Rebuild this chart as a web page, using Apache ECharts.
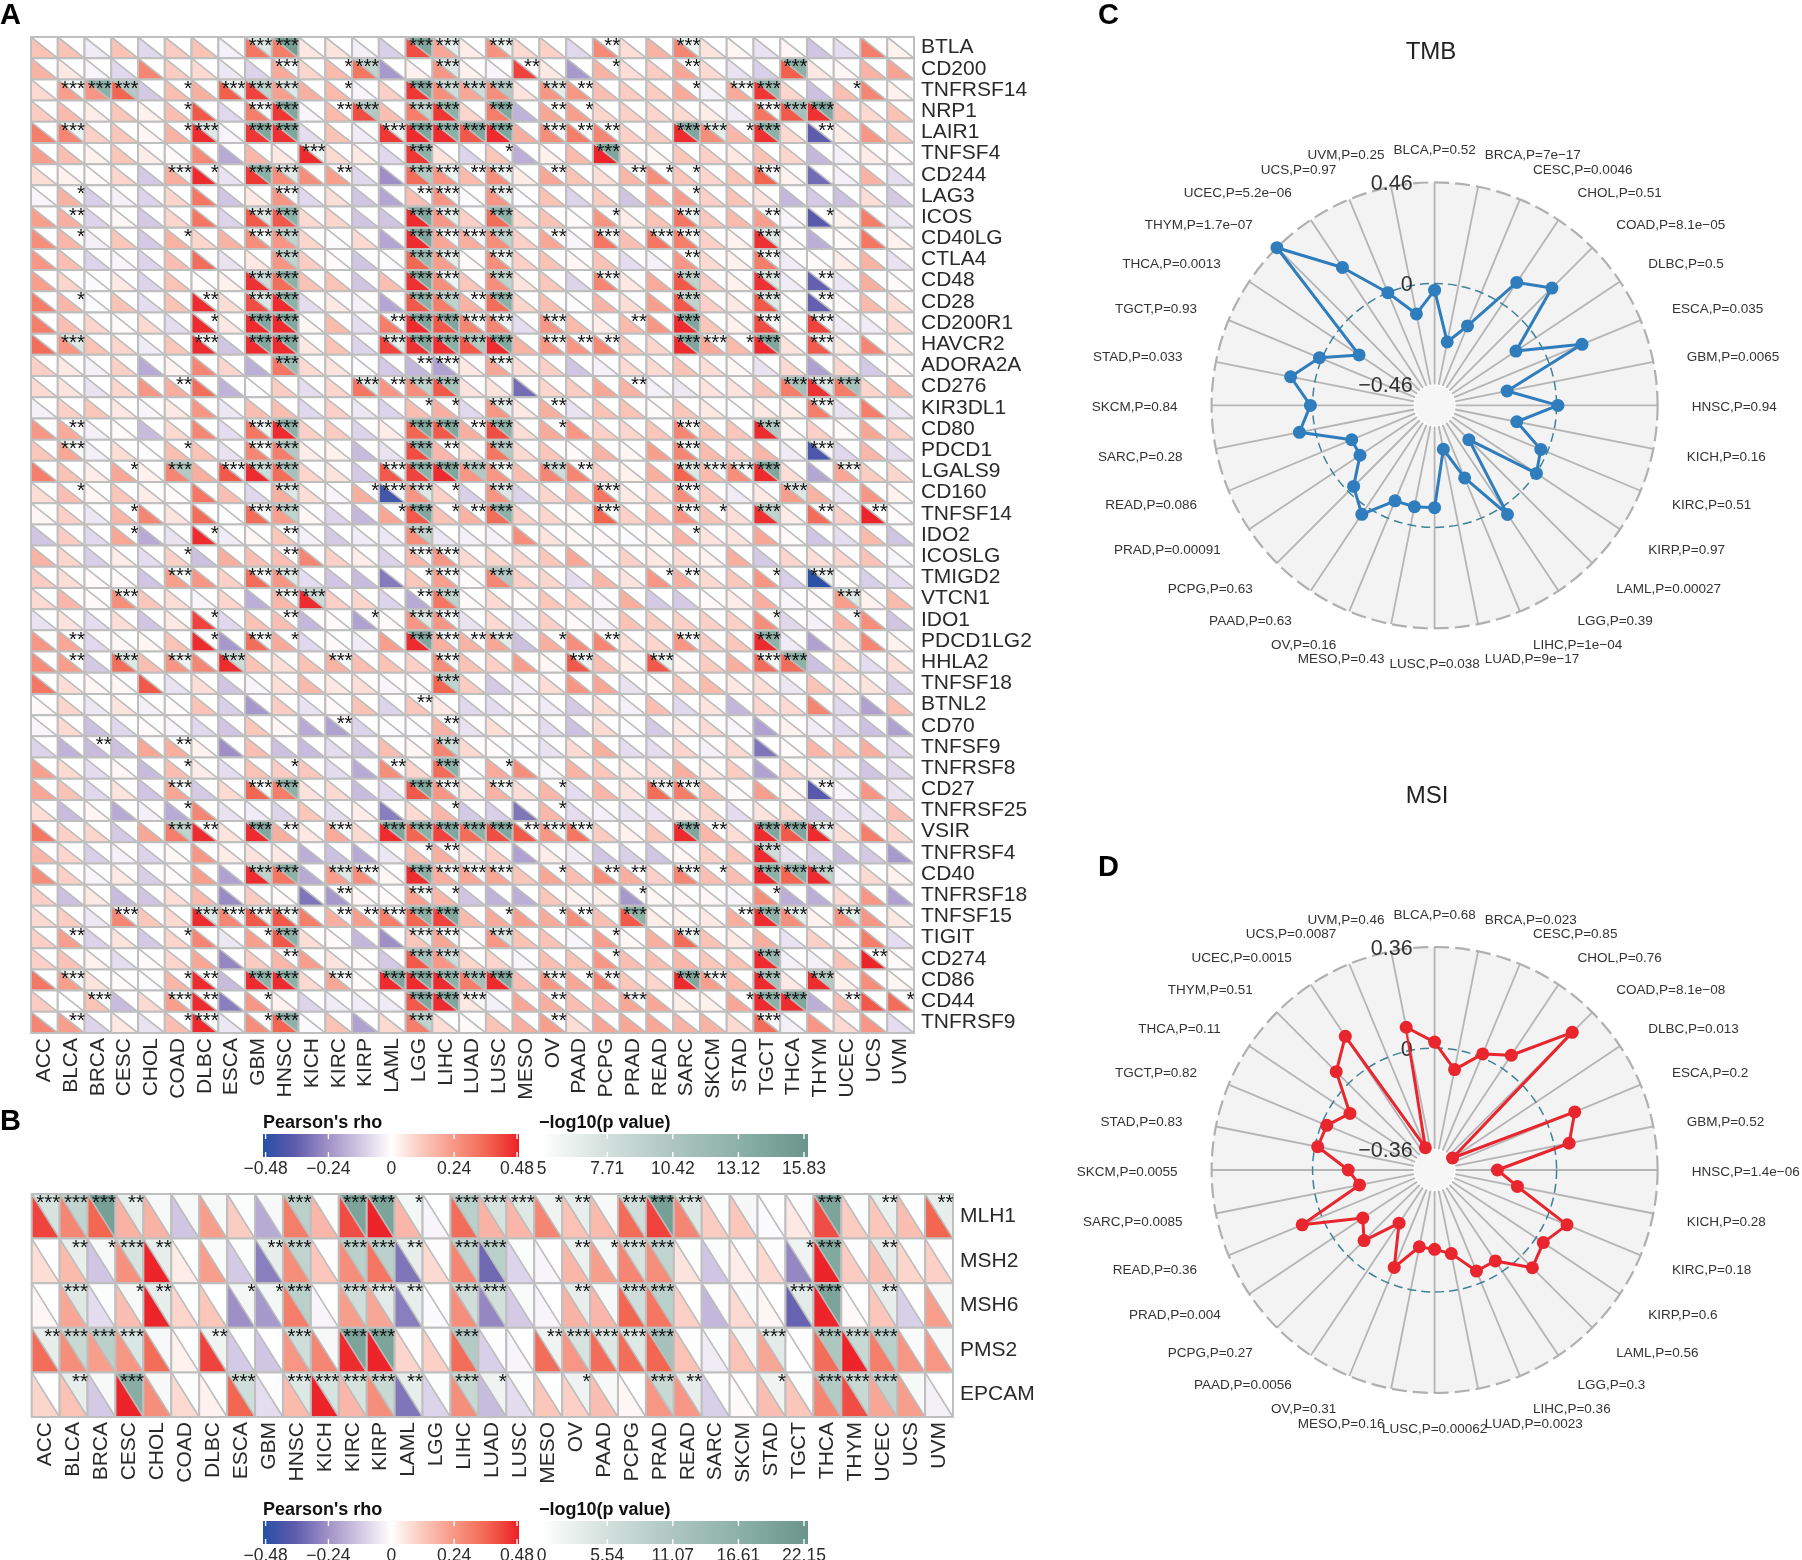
<!DOCTYPE html>
<html>
<head>
<meta charset="utf-8">
<script src="https://cdn.jsdelivr.net/npm/echarts@6/dist/echarts.min.js"></script>
<style>html,body{margin:0;background:#fff}#main{width:1802px;height:1560px}</style>
</head>
<body>
<div id="main"></div>
<script>
var FONT = '"Liberation Sans"';
var cancersA = ['ACC','BLCA','BRCA','CESC','CHOL','COAD','DLBC','ESCA','GBM','HNSC','KICH','KIRC','KIRP','LAML','LGG','LIHC','LUAD','LUSC','MESO','OV','PAAD','PCPG','PRAD','READ','SARC','SKCM','STAD','TGCT','THCA','THYM','UCEC','UCS','UVM'];
var genesA = ['BTLA','CD200','TNFRSF14','NRP1','LAIR1','TNFSF4','CD244','LAG3','ICOS','CD40LG','CTLA4','CD48','CD28','CD200R1','HAVCR2','ADORA2A','CD276','KIR3DL1','CD80','PDCD1','LGALS9','CD160','TNFSF14','IDO2','ICOSLG','TMIGD2','VTCN1','IDO1','PDCD1LG2','HHLA2','TNFSF18','BTNL2','CD70','TNFSF9','TNFRSF8','CD27','TNFRSF25','VSIR','TNFRSF4','CD40','TNFRSF18','TNFSF15','TIGIT','CD274','CD86','CD44','TNFRSF9'];
var genesB = ['MLH1','MSH2','MSH6','PMS2','EPCAM'];

// rho x 100, one row per gene, one value per cancer
var rhoA = [
[13,13,-4,13,-8,11,13,-3,32,30,5,6,-3,-10,40,20,4,25,8,10,-8,27,7,17,28,6,2,-6,2,-12,-7,30,3],
[17,5,-2,-8,28,11,8,-5,-9,19,9,15,32,-22,3,24,3,-2,42,5,-22,17,7,11,20,8,-6,-10,37,5,2,17,21],
[8,22,24,36,-11,14,18,37,42,22,18,15,-2,10,44,26,20,26,6,24,24,14,11,11,19,-3,19,44,9,-13,14,28,3],
[11,15,4,12,3,14,38,-8,30,44,-2,15,40,14,30,44,9,30,-16,20,22,9,10,9,8,4,-4,32,38,45,13,8,13],
[30,28,10,12,2,17,46,-2,44,45,-7,13,-4,44,46,46,38,46,18,26,30,28,10,11,46,26,16,45,8,-36,4,24,12],
[22,14,3,12,4,1,27,-18,16,5,46,8,5,-8,44,6,-9,12,-17,3,15,47,8,2,12,10,5,13,9,-15,-3,4,1],
[7,3,1,9,-11,18,46,-6,44,26,26,22,-8,-24,34,24,15,26,4,20,13,7,16,26,12,9,13,36,3,-32,-3,17,-7],
[-2,17,-10,-3,-9,9,32,-12,5,24,-8,7,-12,-19,14,24,-1,24,-1,13,-9,11,-12,20,22,10,13,6,-15,-11,-13,7,-11],
[22,18,-9,2,-11,9,32,-9,38,38,8,9,-12,-12,46,24,10,34,8,13,1,24,4,13,32,12,15,22,-2,-37,3,30,-5],
[26,16,-3,12,-11,17,9,17,26,24,9,-1,8,-19,46,20,18,26,10,20,-2,32,14,32,30,10,3,45,1,-17,1,32,3],
[24,14,-9,-2,-9,14,34,-6,5,24,11,1,-12,-1,35,22,1,26,10,13,2,13,-7,-3,24,8,3,30,-4,1,4,17,-6],
[22,9,-1,5,-9,13,1,3,45,34,13,13,-12,14,45,26,12,26,6,12,-9,28,5,19,38,11,3,45,-4,-35,-5,18,1],
[30,16,-1,13,-7,13,46,7,40,46,-7,5,-3,-19,38,30,17,34,9,14,-1,17,7,22,38,10,5,38,1,-35,1,15,7],
[30,14,9,1,8,-7,46,5,46,46,2,15,-7,30,46,38,28,28,-7,24,15,4,15,24,46,12,3,40,2,42,-4,-4,8],
[34,24,13,9,-4,12,46,-12,46,46,5,13,-9,42,45,45,38,46,17,24,24,27,12,9,46,19,15,46,6,38,5,28,5],
[10,5,-3,10,-18,3,28,9,-17,32,8,6,-1,-11,-15,-20,5,20,7,10,-12,-3,8,8,13,7,2,-6,8,-20,9,-11,2],
[8,6,-6,9,24,18,34,-16,-1,11,-7,9,32,24,26,38,6,6,-32,9,11,20,17,-3,-5,6,6,13,30,45,30,9,15],
[-3,10,12,5,-2,5,24,-5,14,14,-8,10,-5,-9,14,18,-8,24,5,18,-6,13,13,1,12,5,-1,5,4,30,-6,30,-5],
[24,19,-3,1,-14,8,28,-7,32,46,10,11,-9,4,36,38,18,40,7,19,24,10,9,12,28,13,12,46,2,10,1,20,10],
[12,20,-3,7,-1,14,13,-6,28,30,4,3,-14,-6,40,16,7,32,8,12,1,17,2,22,28,15,10,16,-4,-40,-8,16,-7],
[30,13,4,20,3,28,18,38,46,34,9,6,-11,38,42,46,24,24,14,28,28,10,3,18,36,15,26,46,7,-19,20,11,9],
[7,14,2,12,4,1,32,14,-8,18,7,-2,18,-42,24,10,-10,24,-9,9,14,32,5,9,26,11,-4,5,22,17,-5,24,3],
[2,10,-5,16,28,6,34,-1,34,22,2,-9,-15,20,38,13,17,34,10,9,2,36,10,14,24,13,7,45,4,34,10,47,1],
[-12,11,-8,20,-18,-6,46,-4,2,12,-3,-11,-4,-5,26,-5,-3,-3,26,6,2,2,-1,3,17,6,6,20,1,-12,-7,15,-12],
[17,9,-10,4,-7,10,-13,18,14,14,28,10,4,-9,16,24,8,9,8,12,20,-1,10,5,8,3,18,-11,9,7,9,13,-2],
[11,7,1,1,-12,22,24,10,34,24,-7,-12,-14,-29,12,22,1,28,10,9,-7,16,6,24,18,8,12,24,-10,-47,1,-10,-7],
[8,16,1,26,12,7,-2,9,-17,16,46,10,9,-9,-18,32,1,8,1,12,10,-2,18,-11,-11,1,4,18,-2,1,22,3,15],
[-6,6,-7,7,-12,5,42,-8,13,14,-15,1,-20,1,24,24,-6,8,-6,10,1,-3,13,11,10,10,10,26,-8,-3,16,26,-12],
[24,20,-8,2,2,13,46,-22,34,19,-8,1,-4,22,46,18,17,20,-13,18,26,28,7,9,24,11,12,46,-4,-20,5,28,3],
[26,22,-11,34,14,24,28,46,13,7,13,17,14,13,10,26,13,10,22,2,38,14,4,38,3,11,18,34,34,-13,9,-7,7],
[32,7,2,2,38,-6,7,-12,-2,7,15,5,7,-2,1,36,11,-11,-4,7,24,20,-6,1,12,15,5,7,-5,13,6,6,-10],
[1,9,-5,6,-3,1,13,-10,-22,11,-6,1,13,-9,12,5,-8,-7,2,-4,-11,8,-3,14,-8,6,-15,9,8,28,-8,-20,14],
[-2,8,-13,-8,1,-2,-8,-12,12,2,-18,-20,-9,-1,-1,17,-6,7,1,-7,-13,8,-1,-11,5,8,-2,-20,3,-4,-8,-13,-20],
[-9,-16,-14,-13,20,18,3,-24,14,-13,-14,-7,-12,14,2,28,8,1,-1,-6,8,18,-7,-7,9,-3,8,-30,1,16,13,18,-8],
[22,8,-7,2,-14,14,4,-7,13,11,12,-7,-18,26,9,34,-1,19,26,-2,17,12,5,8,18,5,11,-20,9,5,-5,-12,-8],
[20,13,-8,6,-12,20,-11,8,36,30,6,8,-14,-8,38,24,6,17,7,16,-7,16,6,34,30,14,1,22,3,-38,-2,24,-6],
[7,-14,2,-18,-3,-18,28,-6,-4,-9,12,-7,4,-28,8,16,-11,-10,-30,16,-7,-3,-6,-6,4,9,-7,6,8,-11,-6,-6,14],
[32,10,9,-11,20,30,46,6,46,18,5,19,8,46,36,42,34,40,38,24,32,11,3,12,46,16,7,46,38,46,7,30,9],
[16,9,-10,-3,-9,2,24,4,6,5,-17,-13,-18,-5,14,18,6,10,-20,4,-4,-12,-10,-12,2,10,12,46,-6,-10,-14,-11,-22],
[26,10,-2,5,-10,1,22,-20,46,32,-18,22,26,2,46,18,20,20,12,20,14,26,18,10,28,14,14,46,36,46,-2,8,3],
[10,-13,5,-14,-12,7,15,-25,11,1,-30,-22,2,1,22,16,-12,-16,-17,12,3,4,-22,2,2,2,-2,26,-17,-17,8,24,-20],
[8,11,-5,28,12,8,46,28,38,38,30,18,22,30,36,42,15,19,22,19,26,14,38,4,3,5,18,46,26,3,24,24,5],
[10,22,-9,6,-11,9,28,-5,22,38,7,1,-15,-24,12,20,1,24,13,13,-2,22,2,18,34,13,5,18,-6,10,2,30,-7],
[10,13,3,-7,1,9,20,-26,11,16,22,6,1,-11,38,24,9,9,-2,14,13,24,14,14,16,12,13,46,-3,-3,13,47,1],
[32,22,6,1,-1,16,46,-14,46,46,8,20,1,46,46,46,30,46,14,24,20,28,12,9,46,22,15,46,5,46,3,26,2],
[11,0,13,-14,8,22,46,-28,24,3,-9,-4,-4,-4,38,46,5,-3,20,18,14,16,20,20,4,3,20,46,46,-17,14,38,34],
[28,22,-9,5,-6,14,46,-5,26,36,-1,13,-20,8,30,7,1,13,18,22,7,20,20,20,17,17,8,34,-3,24,8,24,-7]
];
// significant cells per gene, as triples: cancer index, star count, -log10(p)
var sigA = [
[8,3,7,9,3,15,14,3,14,15,3,6.5,17,3,6,21,2,4,24,3,6],
[9,3,5.5,11,1,3,12,3,9,15,3,7,18,2,3,21,1,3,24,2,4,28,3,13],
[1,3,5.5,2,3,13,3,3,10,5,1,3,7,3,6,8,3,9,9,3,7,11,1,3,14,3,14,15,3,8,16,3,8,17,3,10,19,3,6.5,20,2,4,24,1,3,26,3,5.5,27,3,12,30,1,3],
[5,1,3,8,3,5.5,9,3,14,11,2,4,12,3,10,14,3,9,15,3,13,17,3,14,19,2,4,20,1,3,27,3,5.5,28,3,11,29,3,14],
[1,3,6,5,1,3,6,3,7,8,3,14,9,3,14,13,3,6,14,3,14,15,3,13,16,3,14,17,3,14,19,3,5.5,20,2,4,21,2,4,24,3,14,25,3,6.5,26,1,3,27,3,13,29,2,4],
[10,3,6,14,3,13,17,1,3,21,3,14],
[5,3,5.5,6,1,3,8,3,13,9,3,7,11,2,4,14,3,10,15,3,6,16,2,4,17,3,6,19,2,4,22,2,4,23,1,3,24,1,3,27,3,5.5],
[1,1,3,9,3,5.5,14,2,4,15,3,5.5,17,3,6,24,1,3],
[1,2,4,8,3,7,9,3,13,14,3,14,15,3,6.5,17,3,13,21,1,3,24,3,6,27,2,4,29,1,3],
[1,1,3,5,1,3,8,3,5.5,9,3,9,14,3,14,15,3,5.5,16,3,5.5,17,3,9,19,2,4,21,3,5.5,23,3,5.5,24,3,5.5,27,3,7],
[9,3,9,14,3,12,15,3,6.5,17,3,6,24,2,4,27,3,5.5],
[8,3,8,9,3,13,14,3,14,15,3,6,17,3,9,21,3,5.5,24,3,9,27,3,7,29,2,4],
[1,1,3,6,2,4,8,3,7,9,3,13,14,3,13,15,3,9,16,2,4,17,3,13,24,3,9,27,3,7,29,2,4],
[6,1,3,8,3,14,9,3,14,13,2,4,14,3,14,15,3,14,16,3,5.5,17,3,6,19,3,5.5,22,2,4,24,3,14,27,3,5.5,29,3,5.5],
[1,3,7,6,3,5.5,8,3,14,9,3,14,13,3,6.5,14,3,14,15,3,13,16,3,10,17,3,14,19,3,5.5,20,2,4,21,2,4,24,3,14,25,3,5.5,26,1,3,27,3,14,29,3,5.5],
[9,3,12,14,2,4,15,3,5.5,17,3,5.5],
[5,2,4,12,3,6.5,13,2,4,14,3,9,15,3,11,22,2,4,28,3,11,29,3,7,30,3,11],
[14,1,3,15,1,3,17,3,6.5,19,2,4,29,3,5.5],
[1,2,4,8,3,6,9,3,13,14,3,14,15,3,14,16,2,4,17,3,13,19,1,3,24,3,5.5,27,3,10],
[1,3,5.5,5,1,3,8,3,5.5,9,3,10,14,3,13,15,2,4,17,3,10,24,3,5.5,29,3,5.5],
[3,1,3,5,3,10,7,3,5.5,8,3,8,9,3,11,13,3,5.5,14,3,13,15,3,14,16,3,10,17,3,5.5,19,3,8,20,2,4,24,3,7,25,3,5.5,26,3,5.5,27,3,14,30,3,5.5],
[1,1,3,9,3,7,12,1,3,13,3,5.5,14,3,7,15,1,3,17,3,7,21,3,5.5,24,3,5.5,28,3,7],
[3,1,3,8,3,5.5,9,3,9,13,1,3,14,3,14,15,1,3,16,2,4,17,3,13,21,3,5.5,24,3,5.5,25,1,3,27,3,9,29,2,4,31,2,4],
[3,1,3,6,1,3,9,2,4,14,3,9,24,1,3],
[5,1,3,9,2,4,14,3,5.5,15,3,5.5],
[5,3,5.5,8,3,5.5,9,3,7,14,1,3,15,3,5.5,17,3,10,23,1,3,24,2,4,27,1,3,29,3,6],
[3,3,5.5,9,3,5.5,10,3,8,14,2,4,15,3,9,30,3,7],
[6,1,3,9,2,4,12,1,3,14,3,7,15,3,5.5,27,1,3,30,1,3],
[1,2,4,6,1,3,8,3,5.5,9,1,3,14,3,14,15,3,5.5,16,2,4,17,3,6.5,19,1,3,21,2,4,24,3,5.5,27,3,13],
[1,2,4,3,3,7,5,3,6,7,3,8,11,3,5.5,15,3,5.5,20,3,6,23,3,6,27,3,5.5,28,3,13],
[15,3,9],
[14,2,4],
[11,2,4,15,2,4],
[2,2,4,5,2,4,15,3,8],
[5,1,3,9,1,3,13,2,4,15,3,13,17,1,3],
[5,3,5.5,8,3,5.5,9,3,13,14,3,14,15,3,5.5,17,3,5.5,19,1,3,23,3,5.5,24,3,5.5,29,2,4],
[5,1,3,15,1,3,19,1,3],
[5,3,9,6,2,4,8,3,14,9,2,4,11,3,5.5,13,3,14,14,3,13,15,3,14,16,3,13,17,3,14,18,2,4,19,3,5.5,20,3,5.5,24,3,14,25,2,4,27,3,14,28,3,14,29,3,6],
[14,1,3,15,2,4,27,3,8],
[8,3,9,9,3,13,11,3,7,12,3,5.5,14,3,13,15,3,5.5,16,3,5.5,17,3,5.5,19,1,3,21,2,4,22,2,4,24,3,5.5,25,1,3,27,3,13,28,3,13,29,3,9],
[11,2,4,14,3,5.5,15,1,3,22,1,3,27,1,3],
[3,3,5.5,6,3,7,7,3,5.5,8,3,6,9,3,6,11,2,4,12,2,4,13,3,5.5,14,3,13,15,3,14,17,1,3,19,1,3,20,2,4,22,3,13,26,2,4,27,3,13,28,3,6.5,30,3,6.5],
[1,2,4,5,1,3,8,1,3,9,3,13,14,3,6,15,3,5.5,17,3,7,21,1,3,24,3,6],
[9,2,4,14,3,11,15,3,8,21,1,3,27,3,12,31,2,4],
[1,3,5.5,5,1,3,6,2,4,8,3,13,9,3,13,11,3,5.5,13,3,14,14,3,14,15,3,13,16,3,11,17,3,14,19,3,5.5,20,1,3,21,2,4,24,3,14,25,3,5.5,27,3,11,29,3,10],
[2,3,5.5,5,3,5.5,6,2,4,8,1,3,14,3,14,15,3,14,16,3,5.5,19,2,4,22,3,5.5,26,1,3,27,3,13,28,3,14,30,2,4,32,1,3],
[1,2,4,5,1,3,6,3,5.5,8,1,3,9,3,13,14,3,9,19,2,4,27,3,5.5]
];

var rhoB = [
[42,28,36,17,17,-12,22,11,-18,30,16,40,47,16,-2,34,17,16,28,13,15,34,42,28,11,12,-1,5,40,11,12,14,36],
[7,15,-12,25,47,4,22,-11,-28,26,12,26,32,-30,8,28,-33,-9,-2,16,22,28,26,6,-12,4,8,-26,47,11,14,9,10],
[2,20,-7,14,47,9,12,-24,-22,30,-2,22,20,-28,-1,26,-26,-11,-2,17,16,36,32,10,-15,8,2,-34,47,1,12,-10,22],
[34,26,22,24,34,3,42,-11,-12,24,28,46,47,9,10,34,-10,-2,34,24,34,34,36,13,-4,13,20,0,34,47,30,24,24],
[9,13,-11,47,26,8,3,36,-7,15,47,16,26,-30,-9,26,-14,-7,12,10,14,2,24,24,-10,1,14,12,28,40,20,22,-3]
];
var logpB = [
[5,8,20,3,1,1,1,0.5,1,9,0.5,19,19,1.5,0.2,9,5,4,2,3,1,6,20,4,0.5,1.2,0.1,0.3,19,0.5,2.5,0.2,3],
[0,3,1,5,3,0,0.7,0.5,3,8,0.3,9,9,3,0.3,8,9,0.5,0,2.5,1.5,5,8,0.2,0.5,0,0.3,2,18,0.3,3,0.2,0.3],
[0,4,0.5,1,3,0.2,0,1.5,1.5,9,0,6,3.5,3,0,6,5.5,0.7,0,3,1,6,9,0.1,0.4,0.6,0,3.5,19,0,3,0,1],
[3,7,9,4.5,1,0,2,0.2,0,6,1,19,19,0.1,0.2,10,0.4,0,2,5,4,4,12,0.3,0.5,1,3.5,0,11,7,9,0.7,1],
[0,3,1,17,1,0.3,0,6,0.4,4,5,5,7,3,0.5,7,2,0.5,0.2,2,1,0,7,3,0.3,0,2,0.5,10,7,8,1,0]
];
var starsB = [
[3,3,3,2,0,0,0,0,0,3,0,3,3,1,0,3,3,3,1,2,0,3,3,3,0,0,0,0,3,0,2,0,2],
[0,2,1,3,2,0,0,0,2,3,0,3,3,2,0,3,3,0,0,2,1,3,3,0,0,0,0,1,3,0,2,0,0],
[0,3,0,1,2,0,0,1,1,3,0,3,3,2,0,3,3,0,0,2,0,3,3,0,0,0,0,3,3,0,2,0,0],
[2,3,3,3,0,0,2,0,0,3,0,3,3,0,0,3,0,0,2,3,3,3,3,0,0,0,3,0,3,3,3,0,0],
[0,2,0,3,0,0,0,3,0,3,3,3,3,2,0,3,1,0,0,1,0,0,3,2,0,0,1,0,3,3,3,0,0]
];

var radarCancers = ['BLCA','BRCA','CESC','CHOL','COAD','DLBC','ESCA','GBM','HNSC','KICH','KIRC','KIRP','LAML','LGG','LIHC','LUAD','LUSC','MESO','OV','PAAD','PCPG','PRAD','READ','SARC','SKCM','STAD','TGCT','THCA','THYM','UCEC','UCS','UVM'];
var tmbValues = [-0.031,-0.261,-0.164,0.118,0.2,-0.11,0.171,-0.219,0.006,-0.174,-0.032,0.002,-0.335,0.042,-0.198,-0.352,-0.09,-0.085,-0.085,0.041,-0.034,-0.147,-0.147,0.072,0.01,0.113,0.012,-0.142,0.46,0.2,0,-0.131];
var tmbP = ['0.52','7e\u221217','0.0046','0.51','8.1e\u221205','0.5','0.035','0.0065','0.94','0.16','0.51','0.97','0.00027','0.39','1e\u221204','9e\u221217','0.038','0.43','0.16','0.63','0.63','0.00091','0.086','0.28','0.84','0.033','0.93','0.0013','1.7e\u221207','5.2e\u221206','0.97','0.25'];
var msiValues = [0.021,-0.07,0.013,0.057,0.259,-0.358,0.106,0.054,-0.211,-0.134,0.076,0.031,0.058,-0.045,-0.045,-0.131,-0.152,-0.156,-0.059,-0.207,-0.079,-0.127,0.076,-0.162,-0.127,-0.01,-0.019,-0.072,0.061,0.138,-0.349,0.084];
var msiP = ['0.68','0.023','0.85','0.76','8.1e\u221208','0.013','0.2','0.52','1.4e\u221206','0.28','0.18','0.6','0.56','0.3','0.36','0.0023','0.00062','0.16','0.31','0.0056','0.27','0.004','0.36','0.0085','0.0055','0.83','0.82','0.11','0.51','0.0015','0.0087','0.46'];

var rhoStops = ['#2650a6','#5f5bad','#9e90c6','#d0c5e3','#ffffff','#fbc7bb','#f79684','#f26652','#ed1f27'];
var logpStops = ['#ffffff','#d2e0dc','#acc6bf','#8ab0a6','#6a958a'];
var rhoLegendLabels = ['\u22120.48','\u22120.24','0','0.24','0.48'];
var logpTicksA = ['5','7.71','10.42','13.12','15.83'];
var logpTicksB = ['0','5.54','11.07','16.61','22.15'];

function clamp01(t) { return Math.max(0, Math.min(1, t)); }
function rhoColor(v) { return echarts.color.lerp(clamp01((v / 100 + 0.48) / 0.96), rhoStops); }

// one cell: rho in the lower left triangle, p value in the upper right one, stars on top
function cellRender(pMin, pMax) {
    return function (params, api) {
        var c = api.coord([api.value(0), api.value(1)]);
        var s = api.size([1, 1]);
        var x0 = c[0] - s[0] / 2, x1 = c[0] + s[0] / 2, y0 = c[1] - s[1] / 2, y1 = c[1] + s[1] / 2;
        var pColor = echarts.color.lerp(clamp01((api.value(3) - pMin) / (pMax - pMin)), logpStops);
        var n = api.value(4);
        var kids = [
            { type: 'polygon', shape: { points: [[x0, y0], [x0, y1], [x1, y1]] }, style: { fill: rhoColor(api.value(2)) } },
            { type: 'polygon', shape: { points: [[x0, y0], [x1, y0], [x1, y1]] }, style: { fill: pColor } },
            { type: 'line', shape: { x1: x0, y1: y0, x2: x1, y2: y1 }, style: { stroke: '#bcbcbc', lineWidth: 1.6 } },
            { type: 'rect', shape: { x: x0, y: y0, width: s[0], height: s[1] }, style: { fill: 'none', stroke: '#bfbfbf', lineWidth: 2 } }
        ];
        if (n > 0) {
            kids.push({
                type: 'text',
                style: { x: x1 + 0.5, y: y0 - 1, text: '***'.slice(0, n), fill: '#111', font: '20.5px ' + FONT, align: 'right', verticalAlign: 'top', textAlign: 'right', textVerticalAlign: 'top' },
                z2: 10
            });
        }
        return { type: 'group', children: kids };
    };
}

function cellsFromA() {
    var out = [];
    rhoA.forEach(function (row, r) {
        var stars = {}, logp = {};
        for (var k = 0; k < sigA[r].length; k += 3) {
            stars[sigA[r][k]] = sigA[r][k + 1];
            logp[sigA[r][k]] = sigA[r][k + 2];
        }
        row.forEach(function (v, c) { out.push([c, r, v, logp[c] || 0, stars[c] || 0]); });
    });
    return out;
}
function cellsFromB() {
    var out = [];
    rhoB.forEach(function (row, r) {
        row.forEach(function (v, c) { out.push([c, r, v, logpB[r][c], starsB[r][c]]); });
    });
    return out;
}

// x and y axes for a heatmap panel
function catX(grid) {
    return {
        gridIndex: grid, type: 'category', data: cancersA, position: 'bottom',
        axisLine: { show: false }, axisTick: { show: false }, splitLine: { show: false },
        axisLabel: { interval: 0, rotate: 90, margin: 5, fontFamily: FONT, fontSize: 21, color: '#2a2a2a' }
    };
}
function catY(grid, names, padTop) {
    return {
        gridIndex: grid, type: 'category', data: names, inverse: true, position: 'right',
        axisLine: { show: false }, axisTick: { show: false }, splitLine: { show: false },
        axisLabel: { interval: 0, margin: 7, padding: [padTop, 0, 0, 0], fontFamily: FONT, fontSize: 21, color: '#2a2a2a' }
    };
}

// polar panel (C, D) bits
var polarList = [], angleList = [], radiusList = [], polarSeries = [];
function addRadar(idx, cy, maxV, values, pvals, lineColor) {
    polarList.push({ center: [1434.6, cy], radius: [21, 223] });
    angleList.push({
        polarIndex: idx, type: 'category', data: radarCancers, boundaryGap: false, startAngle: 90, clockwise: true,
        axisLine: { show: false }, axisTick: { show: false, interval: 0 }, axisLabel: { show: false, interval: 0 },
        splitLine: { show: true, interval: 0, lineStyle: { color: '#b5b5b5', width: 1.8 } }
    });
    radiusList.push({
        polarIndex: idx, type: 'value', min: -maxV, max: maxV, interval: maxV,
        axisLine: { show: false }, axisTick: { show: false }, axisLabel: { show: false }, splitLine: { show: false }
    });
    // disc behind the spokes
    polarSeries.push({
        type: 'custom', coordinateSystem: 'polar', polarIndex: idx, z: -1, silent: true, data: [[0, 0]],
        renderItem: function (params) {
            var cs = params.coordSys;
            return { type: 'group', children: [
                { type: 'circle', shape: { cx: cs.cx, cy: cs.cy, r: cs.r }, style: { fill: '#f3f3f3' } },
                { type: 'circle', shape: { cx: cs.cx, cy: cs.cy, r: cs.r0 }, style: { fill: '#f6f6f6', stroke: '#fff', lineWidth: 2 } }
            ] };
        }
    });
    // dashed rings at 0 and at the maximum
    polarSeries.push({
        type: 'custom', coordinateSystem: 'polar', polarIndex: idx, z: 2, silent: true, data: [[0, 0], [maxV, 0]],
        renderItem: function (params, api) {
            var cs = params.coordSys, v = api.value(0);
            var p = api.coord([v, 0]);
            var r = Math.sqrt((p[0] - cs.cx) * (p[0] - cs.cx) + (p[1] - cs.cy) * (p[1] - cs.cy));
            return {
                type: 'circle', shape: { cx: cs.cx, cy: cs.cy, r: r },
                style: v === 0 ? { fill: 'none', stroke: '#3f8296', lineWidth: 1.5, lineDash: [9, 5] }
                    : { fill: 'none', stroke: '#b0b0b0', lineWidth: 2.2, lineDash: [15, 6] }
            };
        }
    });
    // cancer labels, outside the disc
    polarSeries.push({
        type: 'custom', coordinateSystem: 'polar', polarIndex: idx, z: 4, silent: true,
        data: radarCancers.map(function (n, i) { return [maxV * 1.337, i]; }),
        renderItem: function (params, api) {
            var i = params.dataIndex, p = api.coord([api.value(0), i]);
            var a = (i === 0 || i === 16) ? 'center' : (i < 16 ? 'left' : 'right');
            return { type: 'text', style: {
                x: p[0], y: p[1] + 2, text: radarCancers[i] + ',P=' + pvals[i], fill: '#333', font: '13.5px ' + FONT,
                align: a, verticalAlign: 'middle', textAlign: a, textVerticalAlign: 'middle'
            } };
        }
    });
    // level labels next to the top spoke
    polarSeries.push({
        type: 'custom', coordinateSystem: 'polar', polarIndex: idx, z: 4, silent: true,
        data: [[-maxV, 0], [0, 0], [maxV, 0]],
        renderItem: function (params, api) {
            var v = api.value(0), p = api.coord([v, 0]);
            var t = v < 0 ? '\u2212' + (-v) : String(v);
            return { type: 'text', style: {
                x: p[0] - 22, y: p[1] + 2, text: t, fill: '#333', font: '21.5px ' + FONT,
                align: 'right', verticalAlign: 'middle', textAlign: 'right', textVerticalAlign: 'middle'
            } };
        }
    });
    // the polar clip of a line series cuts the wedge between last and first spoke,
    // so the closing segment goes in a custom series
    polarSeries.push({
        type: 'custom', coordinateSystem: 'polar', polarIndex: idx, z: 5, silent: true, data: [[values[0], 0]],
        renderItem: function (params, api) {
            var last = values.length - 1;
            var a = api.coord([values[last], last]), b = api.coord([values[0], 0]);
            return { type: 'line', shape: { x1: a[0], y1: a[1], x2: b[0], y2: b[1] }, style: { stroke: lineColor, lineWidth: 3 } };
        }
    });
    polarSeries.push({
        type: 'line', coordinateSystem: 'polar', polarIndex: idx, z: 5, clip: false, animation: false,
        data: values.map(function (v, i) { return [v, i]; }),
        symbol: 'circle', symbolSize: 13, showSymbol: true, silent: true,
        lineStyle: { color: lineColor, width: 3 }, itemStyle: { color: lineColor }
    });
}
addRadar(0, 405.4, 0.46, tmbValues, tmbP, '#2f7dbd');
addRadar(1, 1170, 0.36, msiValues, msiP, '#e9252d');

// colour bars and panel letters
var gfx = [];
function addText(x, y, t, font, align, color) {
    gfx.push({ type: 'text', x: x, y: y, silent: true, style: { text: t, font: font, fill: color || '#2a2a2a', textAlign: align || 'left', textVerticalAlign: 'middle', align: align || 'left', verticalAlign: 'middle' } });
}
function addBar(x0, x1, tickX0, tickX1, top, stops, title, titleX, labels) {
    var colorStops = stops.map(function (c, i) { return { offset: i / (stops.length - 1), color: c }; });
    gfx.push({ type: 'rect', silent: true, shape: { x: x0, y: top, width: x1 - x0, height: 23 }, style: { fill: new echarts.graphic.LinearGradient(0, 0, 1, 0, colorStops) } });
    labels.forEach(function (t, i) {
        var x = tickX0 + (tickX1 - tickX0) * i / (labels.length - 1);
        gfx.push({ type: 'line', silent: true, shape: { x1: x, y1: top, x2: x, y2: top + 5 }, style: { stroke: '#fff', lineWidth: 1.4 } });
        gfx.push({ type: 'line', silent: true, shape: { x1: x, y1: top + 18, x2: x, y2: top + 23 }, style: { stroke: '#fff', lineWidth: 1.4 } });
        addText(x, top + 35, t, '17.5px ' + FONT, 'center');
    });
    addText(titleX, top - 11, title, '700 18px ' + FONT, 'left', '#111');
}
[1134, 1521].forEach(function (top, i) {
    addBar(263, 519, 265.6, 517, top, rhoStops, "Pearson's rho", 263, rhoLegendLabels);
    addBar(541, 808, 541.7, 804, top, logpStops, '\u2212log10(p value)', 539, i === 0 ? logpTicksA : logpTicksB);
});
addText(0, 16, 'A', '700 29px ' + FONT, 'left', '#000');
addText(0, 1122, 'B', '700 29px ' + FONT, 'left', '#000');
addText(1098, 16, 'C', '700 29px ' + FONT, 'left', '#000');
addText(1098, 868, 'D', '700 29px ' + FONT, 'left', '#000');
addText(1431, 52, 'TMB', '24px ' + FONT, 'center', '#222');
addText(1427, 796, 'MSI', '24px ' + FONT, 'center', '#222');

var chart = echarts.init(document.getElementById('main'));
chart.setOption({
    animation: false,
    backgroundColor: '#fff',
    grid: [
        { left: 31, top: 37, width: 883, height: 996 },
        { left: 31.7, top: 1194, width: 921.3, height: 223 }
    ],
    xAxis: [catX(0), catX(1)],
    yAxis: [catY(0, genesA, 2.4), catY(1, genesB, 6)],
    polar: polarList,
    angleAxis: angleList,
    radiusAxis: radiusList,
    graphic: { elements: gfx },
    series: [
        { type: 'custom', xAxisIndex: 0, yAxisIndex: 0, silent: true, data: cellsFromA(), encode: { x: 0, y: 1 }, renderItem: cellRender(5, 15.83) },
        { type: 'custom', xAxisIndex: 1, yAxisIndex: 1, silent: true, data: cellsFromB(), encode: { x: 0, y: 1 }, renderItem: cellRender(0, 22.15) }
    ].concat(polarSeries)
});
</script>
</body>
</html>
